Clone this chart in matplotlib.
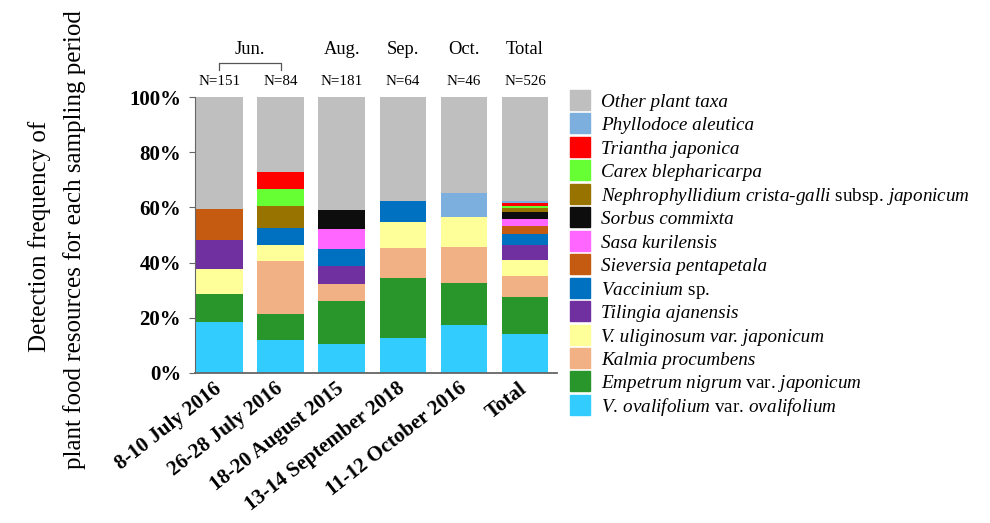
import numpy as np
import matplotlib.pyplot as plt
from matplotlib.patches import Rectangle

plt.rcParams['font.family'] = ['Liberation Serif', 'DejaVu Serif']
plt.rcParams['mathtext.fontset'] = 'custom'
plt.rcParams['mathtext.rm'] = 'Liberation Serif'
plt.rcParams['mathtext.it'] = 'Liberation Serif:italic'

# --- data (% of samples) ---
periods = ["8-10 July 2016", "26-28 July 2016", "18-20 August 2015",
           "13-14 September 2018", "11-12 October 2016", "Total"]
n_labels = ["N=151", "N=84", "N=181", "N=64", "N=46", "N=526"]
months = ["Jun.", "Aug.", "Sep.", "Oct.", "Total"]
month_pos = [0.5, 2, 3, 4, 5]

ovalifolium = [18.5, 11.9, 10.5, 12.5, 17.4, 13.9]
empetrum = [9.9, 9.5, 15.5, 21.9, 15.2, 13.7]
kalmia = [0, 19.0, 6.1, 10.9, 13.0, 7.6]
uliginosum = [9.3, 6.0, 0, 9.4, 10.9, 5.7]
tilingia = [10.6, 0, 6.6, 0, 0, 5.3]
vaccinium = [0, 6.0, 6.1, 7.8, 0, 4.0]
sieversia = [11.3, 0, 0, 0, 0, 3.2]
sasa = [0, 0, 7.2, 0, 0, 2.5]
sorbus = [0, 0, 7.2, 0, 0, 2.5]
nephro = [0, 8.3, 0, 0, 0, 1.3]
carex = [0, 6.0, 0, 0, 0, 0.95]
triantha = [0, 6.0, 0, 0, 0, 0.95]
phyllodoce = [0, 0, 0, 0, 8.7, 0.76]
other = [40.4, 27.3, 40.8, 37.5, 34.8, 37.64]

# bottom -> top
series = [
    (ovalifolium, "#33CCFF", r"$\mathit{V.\,ovalifolium}$ var. $\mathit{ovalifolium}$"),
    (empetrum, "#28962A", r"$\mathit{Empetrum}$ $\mathit{nigrum}$ var. $\mathit{japonicum}$"),
    (kalmia, "#F2B085", "Kalmia procumbens"),
    (uliginosum, "#FFFF99", "V. uliginosum var. japonicum"),
    (tilingia, "#7030A0", "Tilingia ajanensis"),
    (vaccinium, "#0070C0", r"$\mathit{Vaccinium}$ sp."),
    (sieversia, "#C55A11", "Sieversia pentapetala"),
    (sasa, "#FF66FF", "Sasa kurilensis"),
    (sorbus, "#0D0D0D", "Sorbus commixta"),
    (nephro, "#997300", r"$\mathit{Nephrophyllidium}$ $\mathit{crista}$-$\mathit{galli}$ subsp. $\mathit{japonicum}$"),
    (carex, "#66FF33", "Carex blepharicarpa"),
    (triantha, "#FF0000", "Triantha japonica"),
    (phyllodoce, "#7CAFDD", "Phyllodoce aleutica"),
    (other, "#BFBFBF", "Other plant taxa"),
]

fig = plt.figure(figsize=(9.9, 5.23), dpi=100)
ax = fig.add_axes([0.197, 0.2874, 0.3655, 0.5266])

x = np.arange(len(periods))
bottom = np.zeros(len(periods))
for vals, col, lab in series:
    ax.bar(x, vals, 0.76, bottom=bottom, color=col, linewidth=0)
    bottom += np.array(vals)

ax.set_xlim(-0.40, 5.52)
ax.set_ylim(0, 100)
ax.set_yticks(np.arange(0, 101, 20))
ax.set_yticklabels([f"{v}%" for v in range(0, 101, 20)], fontsize=15, fontweight='bold')
ax.set_xticks(x)
ax.set_xticklabels(periods, rotation=38, ha='right', va='center', rotation_mode='anchor',
                   fontsize=15, fontweight='bold')
ax.tick_params(axis='x', length=0, pad=10)
ax.tick_params(axis='y', length=4, color='#666666', pad=6)
for s in ['top', 'right']:
    ax.spines[s].set_visible(False)
ax.spines['left'].set_color('#666666')
ax.spines['bottom'].set_color('#666666')
ax.spines['bottom'].set_linewidth(1.3)

# N labels and months
for xi, nl in zip(x, n_labels):
    ax.text(xi, 1.056, nl, transform=ax.get_xaxis_transform(), ha='center', va='center',
            fontsize=10.8)
for xp, m in zip(month_pos, months):
    ax.text(xp, 1.172, m, transform=ax.get_xaxis_transform(), ha='center', va='center',
            fontsize=13.3)
ax.plot([0, 0, 1, 1], [1.098, 1.125, 1.125, 1.098], transform=ax.get_xaxis_transform(),
        color='#555555', lw=0.9, clip_on=False)

# y label
fig.text(40 / 990, 1 - 236 / 523, "Detection frequency of", rotation=90,
         ha='center', va='center', fontsize=18)
fig.text(75 / 990, 1 - 240 / 523, "plant food resources for each sampling period",
         rotation=90, ha='center', va='center', fontsize=18)

# legend (top row = top of stack)
W, H = 990, 523
for i, (vals, col, lab) in enumerate(series[::-1]):
    cy = 100 + 23.45 * i
    fig.patches.append(Rectangle((569.5 / W, 1 - (cy + 10) / H), 20 / W, 20 / H,
                                 transform=fig.transFigure, color=col, figure=fig))
    style = 'normal' if '$' in lab else 'italic'
    fig.text(601 / W, 1 - (cy + 7) / H, lab, ha='left', va='baseline',
             fontsize=13.8, style=style)

fig.savefig("out.png", dpi=100)
